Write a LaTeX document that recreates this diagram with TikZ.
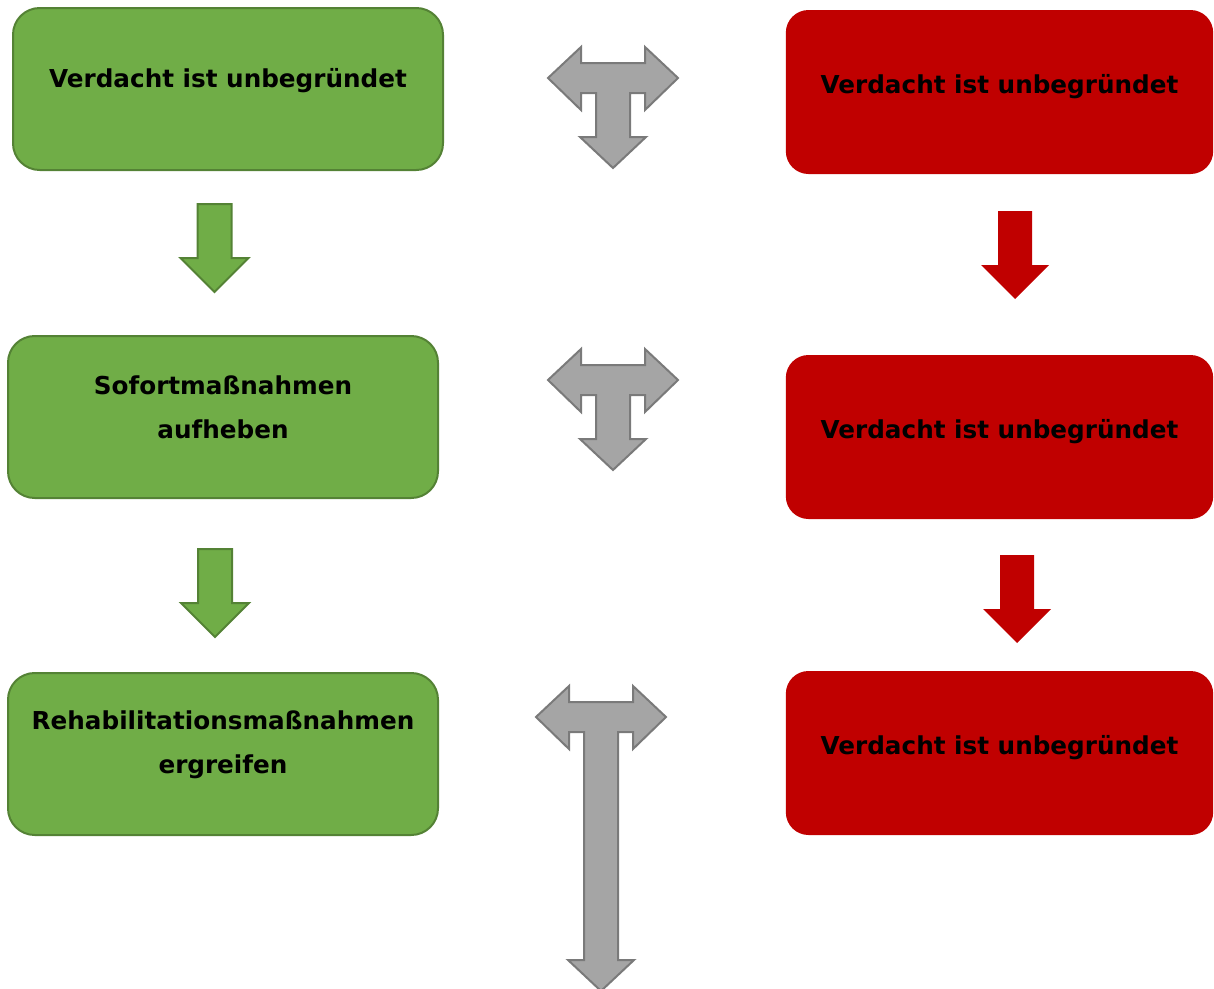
\documentclass[tikz,border=0pt]{standalone}
\usepackage{fontspec}
\setmainfont{DejaVu Sans}
\definecolor{gfill}{HTML}{70AD47}
\definecolor{gline}{HTML}{548235}
\definecolor{rfill}{HTML}{C00000}
\definecolor{afill}{HTML}{A5A5A5}
\definecolor{aline}{HTML}{7A7A7A}
\tikzset{
  gbox/.style={draw=gline, fill=gfill, line width=1.5pt, rounded corners=20pt,
    minimum width=322.5pt, minimum height=121.5pt, inner sep=0pt},
  rbox/.style={fill=rfill, rounded corners=17pt,
    minimum width=320.5pt, minimum height=123pt, inner sep=0pt},
  txt/.style={font=\bfseries\fontsize{18.5}{33}\selectfont, align=center, text=black, inner sep=0pt, yshift=7pt},
  garrow/.style={draw=gline, fill=gfill, line width=1.5pt, line join=miter},
  rarrow/.style={draw=none, fill=rfill},
  tarrowstyle/.style={draw=aline, fill=afill, line width=1.5pt, line join=miter}
}
% down block arrow: #1 style, #2 x centre, #3 top y
\newcommand{\blockdown}[3]{%
  \path[#1] (#2-17,#3) -- (#2+17,#3) -- (#2+17,#3+54) -- (#2+34,#3+54)
    -- (#2,#3+88) -- (#2-34,#3+54) -- (#2-17,#3+54) -- cycle;}
% T arrow: #1 x centre, #2 bar top y, #3 shaft length (from bar top)
\newcommand{\tblock}[3]{%
  \draw[tarrowstyle] (#1-65,#2+15) -- (#1-32,#2-16) -- (#1-32,#2) -- (#1+32,#2)
    -- (#1+32,#2-16) -- (#1+65,#2+15) -- (#1+32,#2+47) -- (#1+32,#2+30)
    -- (#1+17,#2+30) -- (#1+17,#2+#3) -- (#1+33,#2+#3) -- (#1,#2+#3+31)
    -- (#1-33,#2+#3) -- (#1-17,#2+#3) -- (#1-17,#2+30) -- (#1-32,#2+30)
    -- (#1-32,#2+47) -- cycle;}
\begin{document}
\begin{tikzpicture}[x=0.75pt,y=-0.75pt]
\useasboundingbox (0,0) rectangle (1214,989);

% green column
\node[gbox] (g1) at (228,89) {};
\node[txt, yshift=-0.5pt] (g1t) at (g1.center) {Verdacht ist unbegründet};
\node[gbox] (g2) at (223,417) {};
\node[txt] (g2t) at (g2.center) {Sofortmaßnahmen\\aufheben};
\node[gbox] (g3) at (223,754) {};
\node[txt] (g3t) at (g3.center) {Rehabilitationsmaßnahmen\\ergreifen};

% red column
\node[rbox] (r1) at (999.5,92) {};
\node[txt, yshift=-3.25pt] (r1t) at (r1.center) {Verdacht ist unbegründet};
\node[rbox] (r2) at (999.5,437) {};
\node[txt, yshift=-3.25pt] (r2t) at (r2.center) {Verdacht ist unbegründet};
\node[rbox] (r3) at (999.5,753) {};
\node[txt, yshift=-3.25pt] (r3t) at (r3.center) {Verdacht ist unbegründet};

% green down arrows
\blockdown{garrow}{214.5}{204}
\blockdown{garrow}{215}{549}
% red down arrows
\blockdown{rarrow}{1015}{211}
\blockdown{rarrow}{1017}{555}

% grey T arrows
\tblock{613}{63}{74}
\tblock{613}{365}{74}
\tblock{601}{702}{258}
\end{tikzpicture}
\end{document}
